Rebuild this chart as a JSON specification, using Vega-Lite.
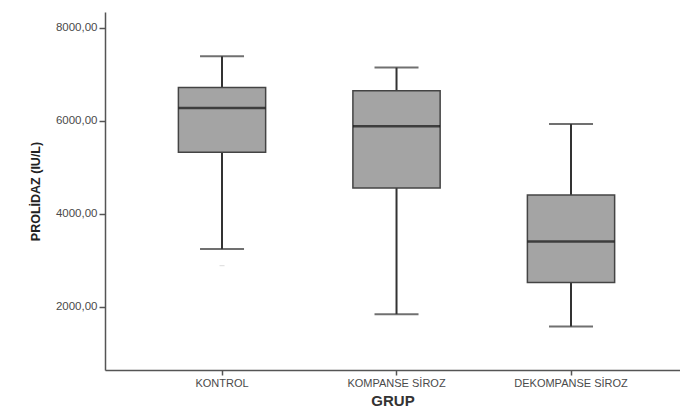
{
  "$schema": "https://vega.github.io/schema/vega-lite/v6.json",
  "width": 575,
  "height": 358,
  "autosize": {"type": "none"},
  "padding": {"left": 105, "top": 12, "right": 0, "bottom": 38},
  "background": "white",
  "config": {
    "view": {"stroke": null},
    "font": "Liberation Sans"
  },
  "datasets": {
    "boxes": [
      {"GRUP": "KONTROL", "lower": 3239, "q1": 5318, "median": 6271, "q3": 6710, "upper": 7383},
      {"GRUP": "KOMPANSE SİROZ", "lower": 1841, "q1": 4551, "median": 5877, "q3": 6645, "upper": 7140},
      {"GRUP": "DEKOMPANSE SİROZ", "lower": 1576, "q1": 2523, "median": 3404, "q3": 4400, "upper": 5927}
    ],
    "outliers": [
      {"GRUP": "KONTROL", "value": 2882}
    ]
  },
  "data": {"name": "boxes"},
  "encoding": {
    "x": {
      "field": "GRUP",
      "type": "nominal",
      "sort": ["KONTROL", "KOMPANSE SİROZ", "DEKOMPANSE SİROZ"],
      "scale": {"paddingInner": 0, "paddingOuter": 0.1476, "align": 0.578},
      "axis": {
        "title": "GRUP",
        "labelAngle": 0,
        "labelFont": "Liberation Sans",
        "labelFontSize": 11,
        "labelColor": "#4a4a4a",
        "labelPadding": 2,
        "tickSize": 5,
        "tickColor": "#555555",
        "tickWidth": 1.5,
        "domainColor": "#555555",
        "domainWidth": 1.5,
        "titleFont": "Liberation Sans",
        "titleFontSize": 15,
        "titleFontWeight": "bold",
        "titleColor": "#333333",
        "titlePadding": 5
      }
    }
  },
  "layer": [
    {
      "mark": {"type": "rule", "color": "#333333", "strokeWidth": 2},
      "encoding": {
        "y": {
          "field": "lower",
          "type": "quantitative",
          "scale": {"domain": [640, 8335], "nice": false, "zero": false},
          "axis": {
            "title": "PROLİDAZ (IU/L)",
            "values": [2000, 4000, 6000, 8000],
            "format": ".2f",
            "labelExpr": "replace(datum.label, '.', ',')",
            "labelFont": "Liberation Sans",
            "labelFontSize": 11.5,
            "labelColor": "#4a4a4a",
            "labelPadding": 2,
            "tickSize": 6,
            "tickColor": "#555555",
            "tickWidth": 1.5,
            "domainColor": "#555555",
            "domainWidth": 1.5,
            "grid": false,
            "titleFont": "Liberation Sans",
            "titleFontSize": 12.5,
            "titleFontWeight": "bold",
            "titleColor": "#222222",
            "titlePadding": 13
          }
        },
        "y2": {"field": "upper"}
      }
    },
    {
      "mark": {"type": "bar", "fill": "#a4a4a4", "stroke": "#444444", "strokeWidth": 1.5, "width": {"band": 0.5}},
      "encoding": {
        "y": {"field": "q1", "type": "quantitative"},
        "y2": {"field": "q3"}
      }
    },
    {
      "mark": {"type": "tick", "color": "#111111", "size": 87, "thickness": 2.5},
      "encoding": {
        "y": {"field": "median", "type": "quantitative"}
      }
    },
    {
      "mark": {"type": "tick", "color": "#333333", "size": 44, "thickness": 2},
      "encoding": {
        "y": {"field": "upper", "type": "quantitative"}
      }
    },
    {
      "mark": {"type": "tick", "color": "#333333", "size": 44, "thickness": 2},
      "encoding": {
        "y": {"field": "lower", "type": "quantitative"}
      }
    },
    {
      "data": {"name": "outliers"},
      "mark": {"type": "tick", "color": "#cccccc", "size": 5, "thickness": 1},
      "encoding": {
        "y": {"field": "value", "type": "quantitative"}
      }
    }
  ]
}
